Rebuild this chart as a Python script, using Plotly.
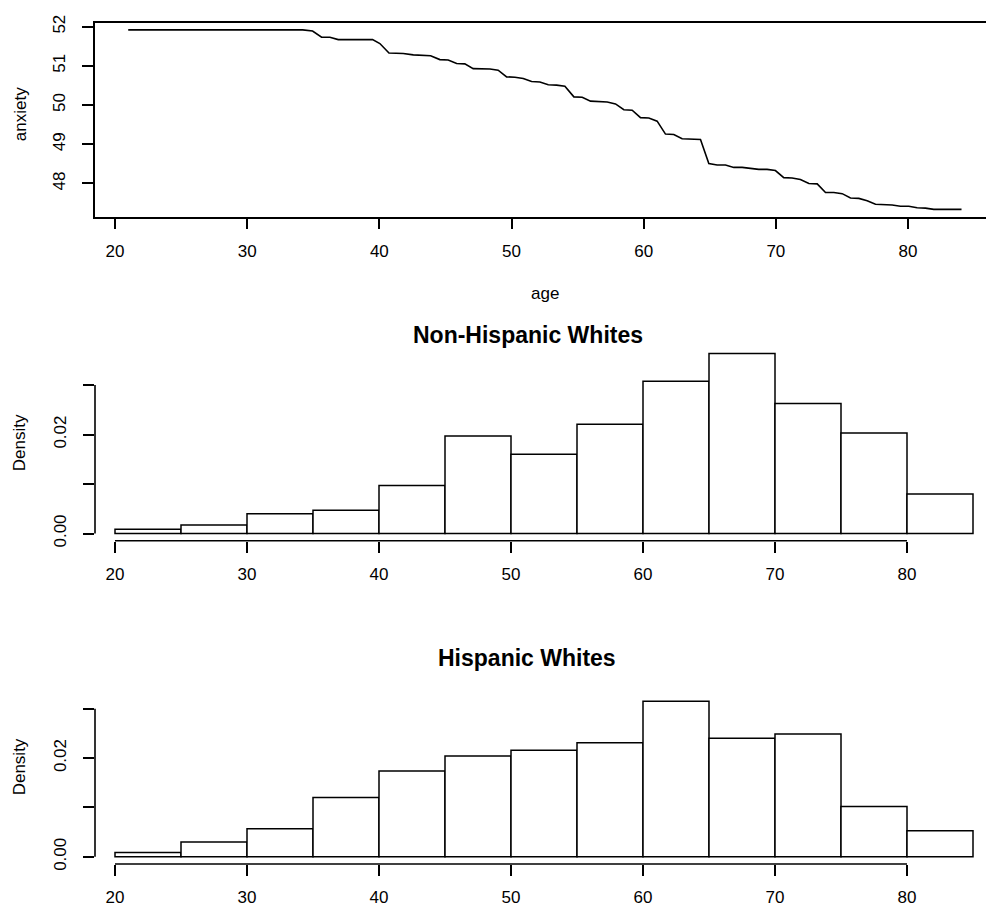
import plotly.graph_objects as go

# ---------------- data ----------------
age = [21.0, 34.2, 34.95, 35.63, 36.26, 36.89, 39.49, 40.04, 40.73, 41.81, 42.57, 43.88,
       44.58, 45.21, 45.85, 46.47, 47.10, 48.37, 48.99, 49.63, 50.26, 50.89, 51.52, 52.15,
       52.78, 53.41, 54.04, 54.72, 55.35, 55.98, 57.24, 57.87, 58.50, 59.13, 59.76, 60.39,
       61.02, 61.65, 62.28, 62.91, 64.30, 64.93, 65.56, 66.19, 66.82, 67.45, 68.71, 69.34,
       69.97, 70.60, 71.23, 71.86, 72.50, 73.13, 73.76, 74.39, 75.02, 75.65, 76.28, 76.91,
       77.54, 78.17, 78.80, 79.43, 80.06, 80.69, 81.32, 81.95, 82.58, 84.05]
anxiety = [51.917, 51.917, 51.89, 51.73, 51.73, 51.67, 51.67, 51.57, 51.33, 51.315, 51.28, 51.26,
           51.16, 51.15, 51.06, 51.05, 50.93, 50.92, 50.89, 50.72, 50.71, 50.68, 50.60, 50.59,
           50.52, 50.51, 50.48, 50.21, 50.20, 50.10, 50.08, 50.03, 49.88, 49.87, 49.68, 49.67,
           49.59, 49.26, 49.25, 49.14, 49.12, 48.51, 48.47, 48.47, 48.41, 48.41, 48.36, 48.36,
           48.33, 48.15, 48.14, 48.10, 48.00, 47.99, 47.77, 47.77, 47.74, 47.63, 47.62, 47.56,
           47.47, 47.46, 47.45, 47.42, 47.42, 47.38, 47.37, 47.34, 47.34, 47.34]

bin_left = [20, 25, 30, 35, 40, 45, 50, 55, 60, 65, 70, 75, 80]
bin_width = 5
nhw_density = [0.00085, 0.0017, 0.0040, 0.0047, 0.0097, 0.0197, 0.0160,
               0.0221, 0.0308, 0.0364, 0.0263, 0.0203, 0.0080]
hw_density = [0.00086, 0.0030, 0.0057, 0.0120, 0.0174, 0.0204, 0.0216,
              0.0231, 0.0315, 0.0240, 0.0249, 0.0102, 0.0053]

age_ticks = [20, 30, 40, 50, 60, 70, 80]
anx_ticks = [48, 49, 50, 51, 52]
dens_ticks = [0.0, 0.01, 0.02, 0.03]
dens_ticktext = ["0.00", "", "0.02", ""]

title_nhw = "Non-Hispanic Whites"
title_hw = "Hispanic Whites"

# ---------------- layout helpers ----------------
W, H = 986, 913
FONT = "Liberation Sans, Arial, Helvetica, sans-serif"


def fx(p):
    return p / W


def fy(p):
    return 1 - p / H


fig = go.Figure()

fig.add_trace(go.Scatter(x=age, y=anxiety, mode="lines",
                         line=dict(color="black", width=1.6),
                         xaxis="x", yaxis="y", hoverinfo="skip"))

centers = [b + bin_width / 2 for b in bin_left]
bar_style = dict(color="white", line=dict(color="black", width=1.5))
fig.add_trace(go.Bar(x=centers, y=nhw_density, width=bin_width, marker=bar_style,
                     xaxis="x2", yaxis="y2"))
fig.add_trace(go.Bar(x=centers, y=hw_density, width=bin_width, marker=bar_style,
                     xaxis="x3", yaxis="y3"))

tickfont = dict(family=FONT, size=17, color="black")
common_x = dict(tickvals=age_ticks, ticks="outside", ticklen=11, tickwidth=1.5,
                tickcolor="black", showgrid=False, zeroline=False, tickfont=tickfont,
                ticklabelstandoff=7)
common_y = dict(ticks="outside", ticklen=11, tickwidth=1.5, tickcolor="black",
                showgrid=False, zeroline=False, tickangle=-90, tickfont=tickfont,
                ticklabelstandoff=10)

fig.update_layout(
    width=W, height=H,
    margin=dict(l=0, r=0, t=0, b=0),
    paper_bgcolor="white", plot_bgcolor="white",
    showlegend=False,
    font=dict(family=FONT, size=17, color="black"),
    xaxis=dict(domain=[fx(94.7), 1], range=[18.464, 85.902], anchor="y",
               showline=True, mirror=True, linewidth=1.6, linecolor="black", **common_x),
    yaxis=dict(domain=[fy(212), fy(15)], range=[47.157, 52.10], anchor="x",
               tickvals=anx_ticks, showline=True, mirror=False, linewidth=1.6,
               linecolor="black", **common_y),
    xaxis2=dict(domain=[fx(95), 1], range=[18.4848, 85.985], anchor="y2",
                showline=False, **common_x),
    yaxis2=dict(domain=[fy(541.7), fy(345)], range=[-0.00147, 0.037634], anchor="x2",
                tickvals=dens_ticks, ticktext=dens_ticktext, showline=False, **common_y),
    xaxis3=dict(domain=[fx(95), 1], range=[18.4848, 85.985], anchor="y3",
                showline=False, **common_x),
    yaxis3=dict(domain=[fy(870.3), fy(675)], range=[-0.001454, 0.03745], anchor="x3",
                tickvals=dens_ticks, ticktext=dens_ticktext, showline=False, **common_y),
)

# R-style axis lines spanning only the tick range
shapes = []
for xa, ya in (("x2", "y2"), ("x3", "y3")):
    shapes.append(dict(type="line", xref=xa, yref=ya + " domain",
                       x0=age_ticks[0], x1=age_ticks[-1], y0=0, y1=0,
                       line=dict(color="black", width=1.6)))
    shapes.append(dict(type="line", xref=xa + " domain", yref=ya,
                       x0=0, x1=0, y0=dens_ticks[0], y1=dens_ticks[-1],
                       line=dict(color="black", width=1.6)))
fig.update_layout(shapes=shapes)


def label(text, x, y, size=17, angle=0):
    return dict(text=text, x=fx(x), y=fy(y), xref="paper", yref="paper",
                xanchor="center", yanchor="middle", textangle=angle,
                showarrow=False, font=dict(family=FONT, size=size, color="black"))


ann = [
    label("anxiety", 20, 108, angle=-90),
    label("age", 545, 290),
    label("Density", 19, 442.5, angle=-90),
    label("Density", 19, 772, angle=-90),
    label("<b>" + title_nhw + "</b>", 528, 332, size=23),
    label("<b>" + title_hw + "</b>", 527, 661, size=23),
]
fig.update_layout(annotations=ann)

fig.write_html("out.html", config={"displayModeBar": False},
               post_script="document.body.style.margin='0';document.body.style.overflow='hidden';")
